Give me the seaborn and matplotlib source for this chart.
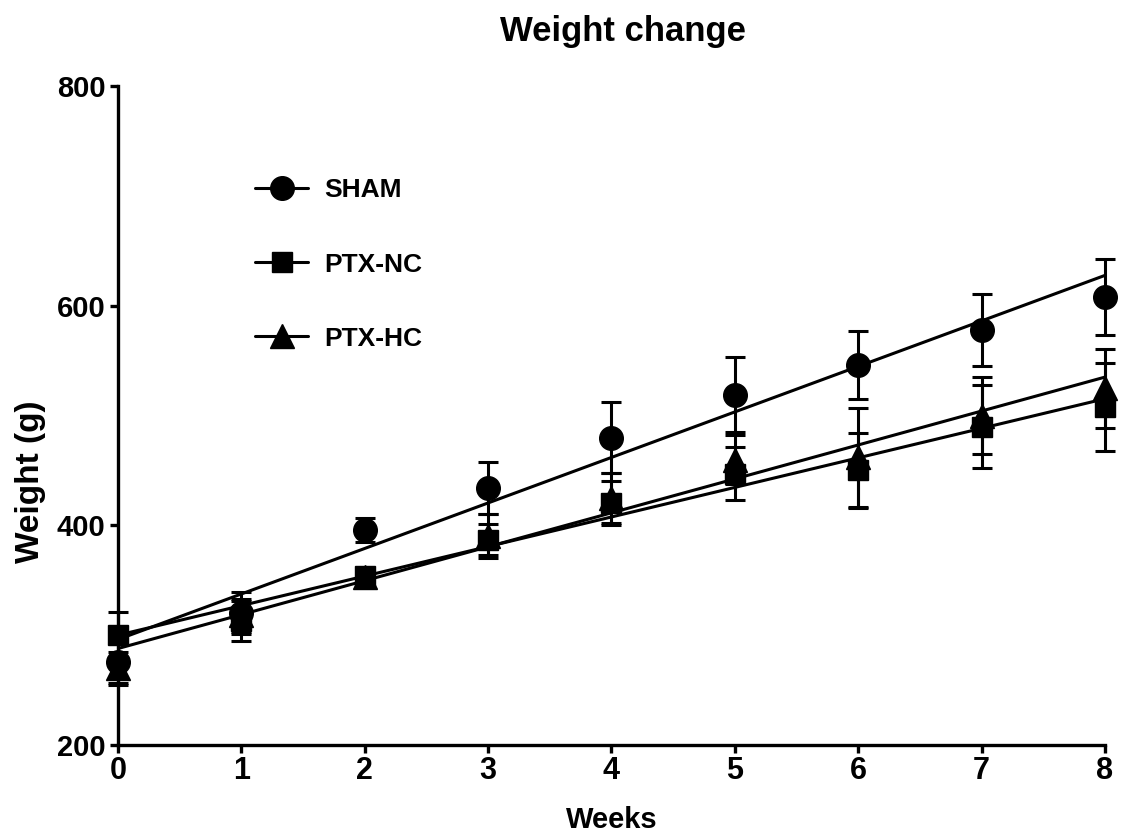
import numpy as np
import pandas as pd
import matplotlib
matplotlib.use("Agg")
import matplotlib.pyplot as plt
import seaborn as sns
from matplotlib.lines import Line2D

weeks = [0, 1, 2, 3, 4, 5, 6, 7, 8]
groups = ["SHAM", "PTX-NC", "PTX-HC"]
sham_mean = [276, 320, 396, 434, 480, 519, 546, 578, 608]
sham_sem = [20, 19, 11, 24, 32, 34, 31, 33, 35]
ptxnc_mean = [300, 313, 354, 387, 420, 447, 450, 490, 508]
ptxnc_sem = [21, 18, 5, 14, 20, 24, 34, 38, 40]
ptxhc_mean = [270, 318, 353, 390, 425, 460, 462, 500, 525]
ptxhc_sem = [15, 15, 5, 20, 23, 22, 45, 35, 36]
markers = ["o", "s", "^"]
msizes = [17, 15, 17]

sns.set_theme(style="ticks")
plt.rcParams["font.family"] = ["Liberation Sans", "DejaVu Sans"]
plt.rcParams["text.color"] = "black"
plt.rcParams["axes.labelcolor"] = "black"
plt.rcParams["xtick.color"] = "black"
plt.rcParams["ytick.color"] = "black"

fig = plt.figure(figsize=(11.28, 8.35), dpi=100)
ax = fig.add_axes([0.1046, 0.1078, 0.875, 0.789])

means = [sham_mean, ptxnc_mean, ptxhc_mean]
sems = [sham_sem, ptxnc_sem, ptxhc_sem]
handles = []
for g, m, s, mk, ms in zip(groups, means, sems, markers, msizes):
    df = pd.DataFrame({"Weeks": weeks, "Weight": m})
    sns.regplot(data=df, x="Weeks", y="Weight", ax=ax, ci=None, scatter=False,
                truncate=True, line_kws=dict(color="black", lw=2.2, zorder=3))
    ax.errorbar(weeks, m, yerr=s, fmt="none", ecolor="black", elinewidth=2.2,
                capsize=7.5, capthick=2.2, zorder=4, clip_on=False)
    ax.plot(weeks, m, linestyle="none", marker=mk, color="black",
            markersize=ms, zorder=5, clip_on=False)
    handles.append(Line2D([0], [0], color="black", lw=2.2, marker=mk,
                          markersize=ms, label=g))

ax.set_xlim(0, 8)
ax.set_ylim(200, 800)
ax.set_xticks(weeks)
ax.set_yticks([200, 400, 600, 800])
for sp in ["top", "right"]:
    ax.spines[sp].set_visible(False)
for sp in ["left", "bottom"]:
    ax.spines[sp].set_linewidth(2.4)
    ax.spines[sp].set_color("black")
ax.tick_params(axis="both", width=2.4, length=6, color="black", direction="out")
ax.tick_params(axis="x", labelsize=22, pad=2)
ax.tick_params(axis="y", labelsize=21, pad=3)
for lab in ax.get_xticklabels() + ax.get_yticklabels():
    lab.set_fontweight("bold")
ax.set_xlabel("Weeks", fontsize=21, fontweight="bold")
ax.xaxis.set_label_coords(0.5, -0.114)
ax.xaxis.label.set_va("center")
ax.set_ylabel("Weight (g)", fontsize=24, fontweight="bold")
ax.yaxis.set_label_coords(-0.089, 0.40)
ax.yaxis.label.set_va("center")
fig.text(0.552, 1 - 31 / 835, "Weight change", fontsize=25, fontweight="bold",
         ha="center", va="center")

leg = ax.legend(handles=handles, loc="upper left", bbox_to_anchor=(0.115, 0.896),
                frameon=False, prop=dict(size=19, weight="bold"),
                handlelength=2.0, handletextpad=0.6, labelspacing=1.9)

fig.savefig("out.png", dpi=100)
